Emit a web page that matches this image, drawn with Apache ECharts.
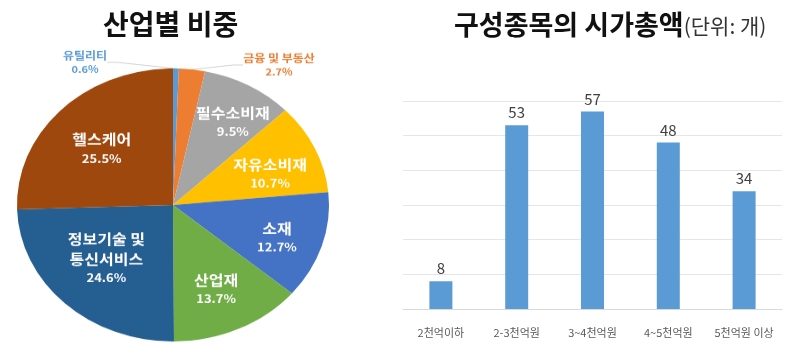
<!DOCTYPE html>
<html>
<head>
<meta charset="utf-8">
<script src="https://cdn.jsdelivr.net/npm/echarts@6/dist/echarts.min.js"></script>
<style>
  html, body { margin: 0; padding: 0; overflow: hidden; background: #fff; }
  #main { position: absolute; left: 0; top: 0; width: 802px; height: 350px; }
  /* pie drawn in its own layer, flattened vertically into an ellipse */
  #pie { position: absolute; left: 0; top: 0; width: 350px; height: 400px;
         transform-origin: 173px 205px; transform: scaleY(0.875); }
</style>
</head>
<body>
<div id="main"></div>
<div id="pie"></div>
<script>
// Sector weights (%), clockwise from 12 o'clock
const sectorNames = ['유틸리티', '금융 및 부동산', '필수소비재', '자유소비재', '소재', '산업재', '정보기술 및\n통신서비스', '헬스케어'];
const sectorShares = [0.6, 2.7, 9.5, 10.7, 12.7, 13.7, 24.6, 25.5];
const sectorColors = ['#5B9BD5', '#ED7D31', '#A5A5A5', '#FFC000', '#4472C4', '#70AD47', '#255E91', '#9E480E'];

// Number of constituents by market capitalisation band
const capBands = ['2천억이하', '2-3천억원', '3~4천억원', '4~5천억원', '5천억원 이상'];
const capCounts = [8, 53, 57, 48, 34];

const FONT = '"Noto Sans CJK KR", "Noto Sans", sans-serif';

const main = echarts.init(document.getElementById('main'), null, { renderer: 'canvas' });
main.setOption({
  animation: false,
  textStyle: { fontFamily: FONT },
  title: [
    {
      text: '산업별 비중', left: 98, top: 5,
      textStyle: { fontFamily: FONT, fontSize: 28, fontWeight: 'bold', color: '#111' }
    },
    {
      text: '{a|구성종목의 시가총액}{b|(단위: 개)}', left: 449, top: 6,
      textStyle: {
        fontFamily: FONT,
        rich: {
          a: { fontFamily: FONT, fontSize: 27, fontWeight: 'bold', color: '#111' },
          b: { fontFamily: FONT, fontSize: 21, fontWeight: 'normal', color: '#333', padding: [3, 0, 0, 0] }
        }
      }
    }
  ],
  grid: { left: 403, right: 20, top: 101, bottom: 41 },
  xAxis: {
    type: 'category', data: capBands,
    axisLine: { lineStyle: { color: '#d9d9d9' } },
    axisTick: { show: false },
    axisLabel: { color: '#595959', fontSize: 11, margin: 18, interval: 0, fontFamily: FONT }
  },
  yAxis: {
    type: 'value', min: 0, max: 60, interval: 10,
    axisLabel: { show: false }, axisLine: { show: false }, axisTick: { show: false },
    splitLine: { lineStyle: { color: '#e6e6e6' } }
  },
  series: [{
    type: 'bar', data: capCounts, barWidth: 23,
    itemStyle: { color: '#5B9BD5' },
    label: { show: true, position: 'top', distance: 5, color: '#404040', fontSize: 15, fontFamily: FONT }
  }]
});

const pie = echarts.init(document.getElementById('pie'), null, { renderer: 'canvas' });
const pieData = sectorNames.map((n, i) => ({ name: n, value: sectorShares[i], itemStyle: { color: sectorColors[i] } }));
const outsideIdx = [0, 1];
// outside label anchors (pre-flattening coordinates)
const outsidePos = { 0: [85, 42], 1: [279, 45] };
// nudges for the inside labels (pre-flattening pixels)
const insideNudge = { 2: [7, 0], 3: [-2, 9], 4: [0, 4], 5: [-3, -3], 6: [9, -18], 7: [7, 11] };

pie.setOption({
  animation: false,
  series: [
    {
      type: 'pie', center: [173, 205], radius: 156, startAngle: 90, clockwise: true,
      data: pieData.map((d, i) => Object.assign({}, d, {
        label: {
          show: outsideIdx.includes(i),
          color: sectorColors[i]
        },
        labelLine: { show: outsideIdx.includes(i) }
      })),
      itemStyle: { borderWidth: 0 },
      label: {
        position: 'outside', fontFamily: FONT, align: 'center', overflow: 'none', width: 120,
        formatter: p => '{n|' + p.name + '}\n{p|' + p.value.toFixed(1) + '%}',
        rich: {
          n: { fontFamily: FONT, fontSize: 12, fontWeight: 'bold', lineHeight: 16, align: 'center' },
          p: { fontFamily: FONT, fontSize: 11, fontWeight: 'bold', lineHeight: 15, align: 'center' }
        }
      },
      labelLine: { length: 10, length2: 10, lineStyle: { color: '#d0d0d0', width: 1 } },
      labelLayout: p => {
        const pos = outsidePos[p.dataIndex];
        if (!pos) return {};
        return { x: pos[0], y: pos[1], align: 'center', verticalAlign: 'middle' };
      }
    },
    {
      // transparent ring carrying the inside labels
      type: 'pie', center: [173, 205], radius: [56, 156], startAngle: 90, clockwise: true,
      silent: true,
      data: pieData.map((d, i) => ({
        name: d.name, value: d.value,
        itemStyle: { color: 'rgba(0,0,0,0)' },
        label: { show: !outsideIdx.includes(i) }
      })),
      labelLine: { show: false },
      label: {
        position: 'inside', color: '#fff',
        formatter: p => '{n|' + p.name + '}\n{p|' + p.value.toFixed(1) + '%}',
        rich: {
          n: { fontFamily: FONT, fontSize: 16, fontWeight: 'bold', color: '#fff', lineHeight: 23, align: 'center' },
          p: { fontFamily: FONT, fontSize: 13, fontWeight: 'bold', color: '#fff', lineHeight: 20, align: 'center' }
        }
      },
      labelLayout: p => {
        const n = insideNudge[p.dataIndex];
        return n ? { dx: n[0], dy: n[1] } : {};
      }
    }
  ]
});
</script>
</body>
</html>
